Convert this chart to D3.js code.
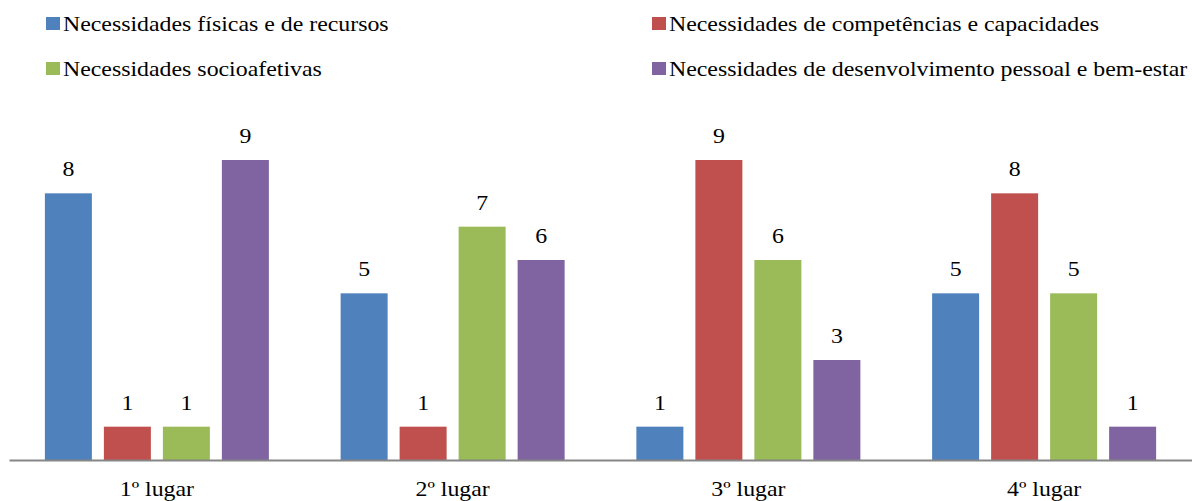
<!DOCTYPE html>
<html>
<head>
<meta charset="utf-8">
<script src="https://cdn.jsdelivr.net/npm/d3@7"></script>
<style>
  html, body { margin: 0; padding: 0; background: #fff; }
  svg { display: block; }
</style>
</head>
<body>
<svg id="chart" width="1192" height="501"></svg>
<script>
// Categories (ranking positions) and the four need groups
const categories = ["1º lugar", "2º lugar", "3º lugar", "4º lugar"];
const seriesNames = [
  "Necessidades físicas e de recursos",
  "Necessidades de competências e capacidades",
  "Necessidades socioafetivas",
  "Necessidades de desenvolvimento pessoal e bem-estar"
];
const fisicas         = [8, 5, 1, 5];
const competencias    = [1, 1, 9, 8];
const socioafetivas   = [1, 7, 6, 5];
const desenvolvimento = [9, 6, 3, 1];
const seriesColors = ["#4F81BD", "#C0504D", "#9BBB59", "#8064A2"];

const seriesValues = [fisicas, competencias, socioafetivas, desenvolvimento];

const svg = d3.select("#chart");
const fontSize = 21;
const widen = 1.135;

// Apply the serif face and a slightly wider set width to a text selection
function styleText(sel) {
  sel.style("font-family", '"Liberation Serif"')
    .attr("font-size", fontSize)
    .attr("fill", "#000");
  sel.each(function() {
    const w = this.getComputedTextLength();
    d3.select(this).attr("textLength", w * widen).attr("lengthAdjust", "spacingAndGlyphs");
  });
}

// Scales
const x0 = d3.scaleBand().domain(categories).range([9, 1192]).paddingInner(0).paddingOuter(0);
const x1 = d3.scaleBand().domain(d3.range(seriesNames.length))
  .range([0, x0.bandwidth()]).paddingInner(0.2034).paddingOuter(0.608);
const y = d3.scaleLinear().domain([0, 9]).range([460, 160]);

// Bars and value labels
const groups = svg.append("g").selectAll("g")
  .data(categories)
  .join("g")
  .attr("transform", d => `translate(${x0(d)},0)`);

groups.each(function(c, ci) {
  const g = d3.select(this);
  const data = seriesValues.map((vals, si) => ({ si, value: vals[ci] }));
  g.selectAll("rect")
    .data(data)
    .join("rect")
    .attr("x", d => x1(d.si))
    .attr("width", x1.bandwidth())
    .attr("y", d => y(d.value))
    .attr("height", d => y(0) - y(d.value))
    .attr("fill", d => seriesColors[d.si]);
  g.selectAll("text.val")
    .data(data)
    .join("text")
    .attr("class", "val")
    .attr("text-anchor", "middle")
    .attr("x", d => x1(d.si) + x1.bandwidth() / 2)
    .attr("y", d => y(d.value) - 17)
    .text(d => d.value)
    .call(styleText);
});

// Category axis
const axis = svg.append("g")
  .attr("transform", `translate(0,${y(0)})`)
  .call(d3.axisBottom(x0).tickSize(0).tickSizeOuter(0).tickPadding(0));
axis.select(".domain").attr("stroke", "#868686").attr("stroke-width", 2);
axis.selectAll(".tick text")
  .attr("dy", null)
  .attr("y", 36)
  .call(styleText);

// Legend: two rows, two columns
const legendPos = [
  { x: 46, y: 17 },
  { x: 652, y: 17 },
  { x: 46, y: 62 },
  { x: 652, y: 62 }
];
const legend = svg.append("g").selectAll("g")
  .data(seriesNames)
  .join("g")
  .attr("transform", (d, i) => `translate(${legendPos[i].x},${legendPos[i].y})`);
legend.append("rect")
  .attr("width", 14).attr("height", 13)
  .attr("fill", (d, i) => seriesColors[i]);
legend.append("text")
  .attr("x", 17)
  .attr("y", 14)
  .text(d => d)
  .call(styleText);
</script>
</body>
</html>
